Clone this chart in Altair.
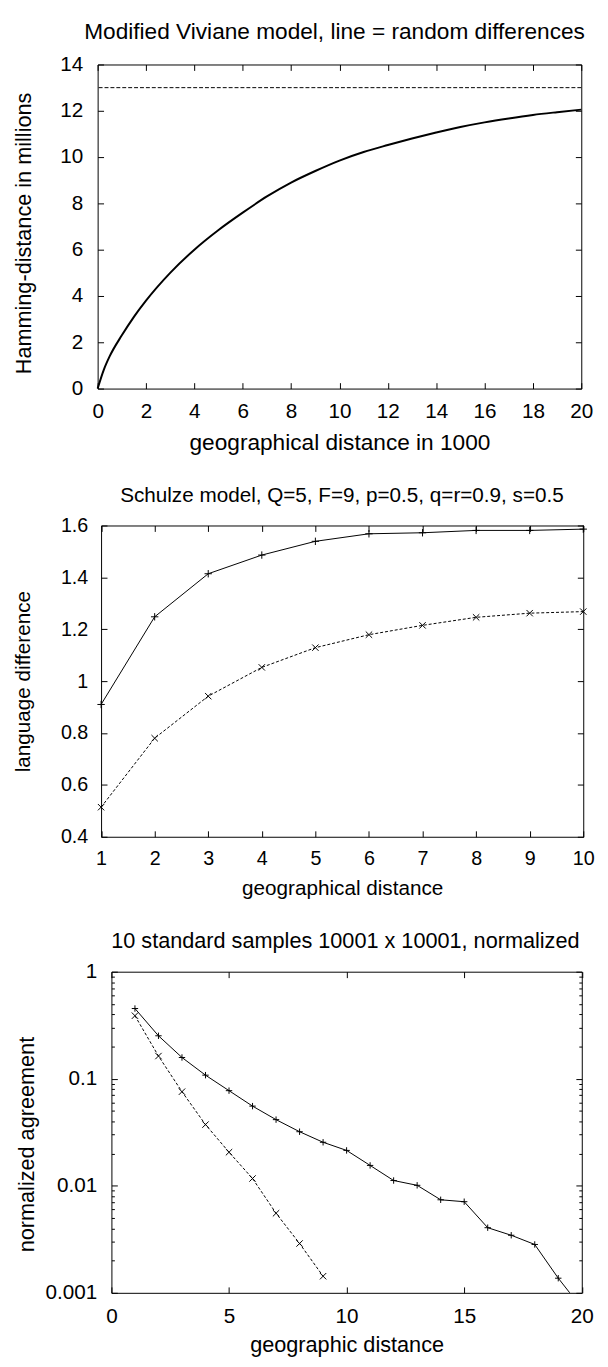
import altair as alt
import pandas as pd

FONT = "Liberation Sans"

# ---------------- data ----------------
# Panel 1: Modified Viviane model
p1_x = [0, 0.25, 0.5, 1, 1.5, 2, 3, 4, 5, 6, 7, 8, 9, 10, 11, 12, 13, 14, 15, 16, 17, 18, 19, 20]
p1_y = [0, 0.8, 1.4, 2.3, 3.1, 3.8, 5.0, 6.0, 6.85, 7.6, 8.3, 8.9, 9.4, 9.85, 10.22,
        10.52, 10.8, 11.06, 11.3, 11.5, 11.67, 11.82, 11.94, 12.05]
p1_random = [13]
p1_xticks = [0, 2, 4, 6, 8, 10, 12, 14, 16, 18, 20]
p1_yticks = [0, 2, 4, 6, 8, 10, 12, 14]

# Panel 2: Schulze model
p2_x = [1, 2, 3, 4, 5, 6, 7, 8, 9, 10]
p2_a = [0.91, 1.248, 1.414, 1.486, 1.539, 1.568, 1.572, 1.581, 1.581, 1.586]
p2_b = [0.514, 0.78, 0.942, 1.053, 1.129, 1.179, 1.215, 1.246, 1.262, 1.268]
p2_xticks = [1, 2, 3, 4, 5, 6, 7, 8, 9, 10]
p2_yticks = [0.4, 0.6, 0.8, 1.0, 1.2, 1.4, 1.6]

# Panel 3: 10 standard samples
p3_xa = [1, 2, 3, 4, 5, 6, 7, 8, 9, 10, 11, 12, 13, 14, 15, 16, 17, 18, 19, 20]
p3_a = [0.453, 0.252, 0.158, 0.108, 0.0774, 0.0555, 0.0415, 0.032, 0.0255, 0.0214,
        0.0155, 0.0112, 0.0101, 0.0074, 0.0071, 0.00406, 0.00345, 0.00283, 0.00137, 0.00072]
p3_xb = [1, 2, 3, 4, 5, 6, 7, 8, 9]
p3_b = [0.388, 0.163, 0.0757, 0.0373, 0.0206, 0.0117, 0.00554, 0.00289, 0.00143]
p3_xticks = [0, 5, 10, 15, 20]
p3_ymajor = [0.001, 0.01, 0.1, 1]
p3_yminor = [0.002, 0.003, 0.004, 0.005, 0.006, 0.007, 0.008, 0.009,
             0.02, 0.03, 0.04, 0.05, 0.06, 0.07, 0.08, 0.09,
             0.2, 0.3, 0.4, 0.5, 0.6, 0.7, 0.8, 0.9]

PLUS = "M-1,0L1,0M0,-1L0,1"
CROSS = "M-1,-1L1,1M-1,1L1,-1"


def tick_axis(orient, values, T=6, shift=0):
    return alt.Axis(orient=orient, values=values, tickSize=T, offset=-(T + shift), domain=False,
                    grid=False, ticks=True, tickColor="black", tickWidth=1,
                    labels=False, title=None)


def frame_axis(orient, shift=0):
    return alt.Axis(orient=orient, offset=-shift, domain=True, domainColor="black",
                    domainWidth=1, ticks=False, labels=False, grid=False, title=None)


def label_axis(orient, values, title, lfs, tfs, lpad, tx=None, ty=None, fmt="~g", T=6, shift=0):
    kw = dict(orient=orient, values=values, tickSize=T, offset=-(T + shift), domain=False,
              grid=False, ticks=True, tickColor="black", tickWidth=1,
              labels=True, labelFont=FONT, labelFontSize=lfs, labelColor="black",
              labelPadding=lpad, labelFlush=False, labelOverlap=False, format=fmt,
              title=title, titleFont=FONT, titleFontSize=tfs, titleFontWeight="normal",
              titleColor="black", titleBaseline="alphabetic")
    if orient == "left":
        kw.update(titleAngle=270, titleAlign="center")
    if tx is not None:
        kw["titleX"] = tx
    if ty is not None:
        kw["titleY"] = ty
    return alt.Axis(**kw)


def ptitle(text, fs, off, dx):
    return alt.Title(text=text, font=FONT, fontSize=fs, fontWeight="normal",
                     color="black", anchor="middle", offset=off, dx=dx)


# ---------------- panel 1 ----------------
W1, H1, S1 = 491, 329, 0
df1 = pd.DataFrame({"x": p1_x, "y": p1_y})
xs1 = alt.Scale(domain=[0, 20], nice=False, zero=False, range=[S1, W1])
ys1 = alt.Scale(domain=[0, 14], nice=False, zero=False)

c1 = alt.Chart(df1).mark_line(color="black", strokeWidth=2, interpolate="monotone").encode(
    x=alt.X("x:Q", scale=xs1,
            axis=label_axis("bottom", p1_xticks, "geographical distance in 1000", 21, 23, 12,
                            ty=67.5, fmt="d")),
    y=alt.Y("y:Q", scale=ys1,
            axis=label_axis("left", p1_yticks, "Hamming-distance in millions", 21, 22, 15,
                            tx=-74, ty=171, fmt="d", shift=S1)),
)
g1a = alt.Chart(df1).mark_line(opacity=0).encode(
    x=alt.X("x:Q", scale=xs1, axis=tick_axis("top", p1_xticks)),
    y=alt.Y("y:Q", scale=ys1, axis=tick_axis("right", p1_yticks)),
)
g1b = alt.Chart(df1).mark_line(opacity=0).encode(
    x=alt.X("x:Q", scale=xs1, axis=frame_axis("bottom")),
    y=alt.Y("y:Q", scale=ys1, axis=frame_axis("left", S1)),
)
g1c = alt.Chart(df1).mark_line(opacity=0).encode(
    x=alt.X("x:Q", scale=xs1, axis=frame_axis("top")),
    y=alt.Y("y:Q", scale=ys1, axis=frame_axis("right")),
)
r1 = alt.Chart(pd.DataFrame({"r": p1_random})).mark_rule(
    color="black", strokeWidth=1, strokeDash=[4, 2]).encode(
    y=alt.Y("r:Q", scale=ys1, axis=None))

panel1 = alt.layer(c1, g1a, g1b, g1c, r1).resolve_axis(x="independent", y="independent").properties(
    width=W1, height=H1,
    title=ptitle("Modified Viviane model, line = random differences", 23, 10, -5))

# ---------------- panel 2 ----------------
W2, H2, S2 = 493, 316, 3.5
df2 = pd.DataFrame({"x": p2_x, "a": p2_a, "b": p2_b})
xs2 = alt.Scale(domain=[1, 10], nice=False, zero=False, range=[S2, W2])
ys2 = alt.Scale(domain=[0.4, 1.6], nice=False, zero=False)

la2 = alt.Chart(df2).mark_line(color="black", strokeWidth=1).encode(
    x=alt.X("x:Q", scale=xs2,
            axis=label_axis("bottom", p2_xticks, "geographical distance", 20, 21, 12, ty=64.5, fmt="d")),
    y=alt.Y("a:Q", scale=ys2,
            axis=label_axis("left", p2_yticks, "language difference", 20, 21, 13.5,
                            tx=-79, ty=158, shift=S2)),
)
pa2 = alt.Chart(df2).mark_point(shape=PLUS, filled=False, color="black", size=56,
                                strokeWidth=1, opacity=1).encode(
    x=alt.X("x:Q", scale=xs2, axis=tick_axis("top", p2_xticks)),
    y=alt.Y("a:Q", scale=ys2, axis=tick_axis("right", p2_yticks)),
)
lb2 = alt.Chart(df2).mark_line(color="black", strokeWidth=1, strokeDash=[3, 2]).encode(
    x=alt.X("x:Q", scale=xs2, axis=frame_axis("bottom")),
    y=alt.Y("b:Q", scale=ys2, axis=frame_axis("left", S2)),
)
pb2 = alt.Chart(df2).mark_point(shape=CROSS, filled=False, color="black", size=42,
                                strokeWidth=1, opacity=1).encode(
    x=alt.X("x:Q", scale=xs2, axis=frame_axis("top")),
    y=alt.Y("b:Q", scale=ys2, axis=frame_axis("right")),
)

panel2 = alt.layer(la2, pa2, lb2, pb2).resolve_axis(x="independent", y="independent").properties(
    width=W2, height=H2,
    title=ptitle("Schulze model, Q=5, F=9, p=0.5, q=r=0.9, s=0.5", 21, 10, 1.5))

# ---------------- panel 3 ----------------
W3, H3, S3 = 491.5, 326, 14
df3a = pd.DataFrame({"x": p3_xa, "v": p3_a})
df3b = pd.DataFrame({"x": p3_xb, "v": p3_b})
xs3 = alt.Scale(domain=[0, 20], nice=False, zero=False, range=[S3, W3])
ys3 = alt.Scale(type="log", domain=[0.001, 1], nice=False)

la3 = alt.Chart(df3a).mark_line(color="black", strokeWidth=1, clip=True).encode(
    x=alt.X("x:Q", scale=xs3,
            axis=label_axis("bottom", p3_xticks, "geographic distance", 21, 22, 13, ty=66, fmt="d")),
    y=alt.Y("v:Q", scale=ys3,
            axis=label_axis("left", p3_ymajor, "normalized agreement", 21, 22, 15,
                            tx=-85.5, ty=175, shift=S3)),
)
pa3 = alt.Chart(df3a).mark_point(shape=PLUS, filled=False, color="black", size=42,
                                 strokeWidth=1, opacity=1, clip=True).encode(
    x=alt.X("x:Q", scale=xs3, axis=tick_axis("top", p3_xticks)),
    y=alt.Y("v:Q", scale=ys3, axis=tick_axis("right", p3_ymajor)),
)
lb3 = alt.Chart(df3b).mark_line(color="black", strokeWidth=1, strokeDash=[3, 2], clip=True).encode(
    x=alt.X("x:Q", scale=xs3, axis=frame_axis("bottom")),
    y=alt.Y("v:Q", scale=ys3, axis=tick_axis("left", p3_yminor, T=3, shift=S3)),
)
pb3 = alt.Chart(df3b).mark_point(shape=CROSS, filled=False, color="black", size=42,
                                 strokeWidth=1, opacity=1, clip=True).encode(
    x=alt.X("x:Q", scale=xs3, axis=frame_axis("top")),
    y=alt.Y("v:Q", scale=ys3, axis=tick_axis("right", p3_yminor, T=3)),
)
g3a = alt.Chart(df3b).mark_line(opacity=0, clip=True).encode(
    x=alt.X("x:Q", scale=xs3, axis=None),
    y=alt.Y("v:Q", scale=ys3, axis=frame_axis("left", S3)),
)
g3b = alt.Chart(df3b).mark_line(opacity=0, clip=True).encode(
    x=alt.X("x:Q", scale=xs3, axis=None),
    y=alt.Y("v:Q", scale=ys3, axis=frame_axis("right")),
)

panel3 = alt.layer(la3, pa3, lb3, pb3, g3a, g3b).resolve_axis(x="independent", y="independent").properties(
    width=W3, height=H3,
    title=ptitle("10 standard samples 10001 x 10001, normalized", 22, 8.5, 5.75))

chart = alt.concat(panel1, panel2, panel3, columns=1).properties(
    spacing=31,
    padding={"left": 4, "top": 3, "right": 5, "bottom": 5},
    background="white",
).configure(font=FONT).configure_view(stroke=None)

chart.save("out.html", embed_options={"renderer": "svg", "actions": False})
